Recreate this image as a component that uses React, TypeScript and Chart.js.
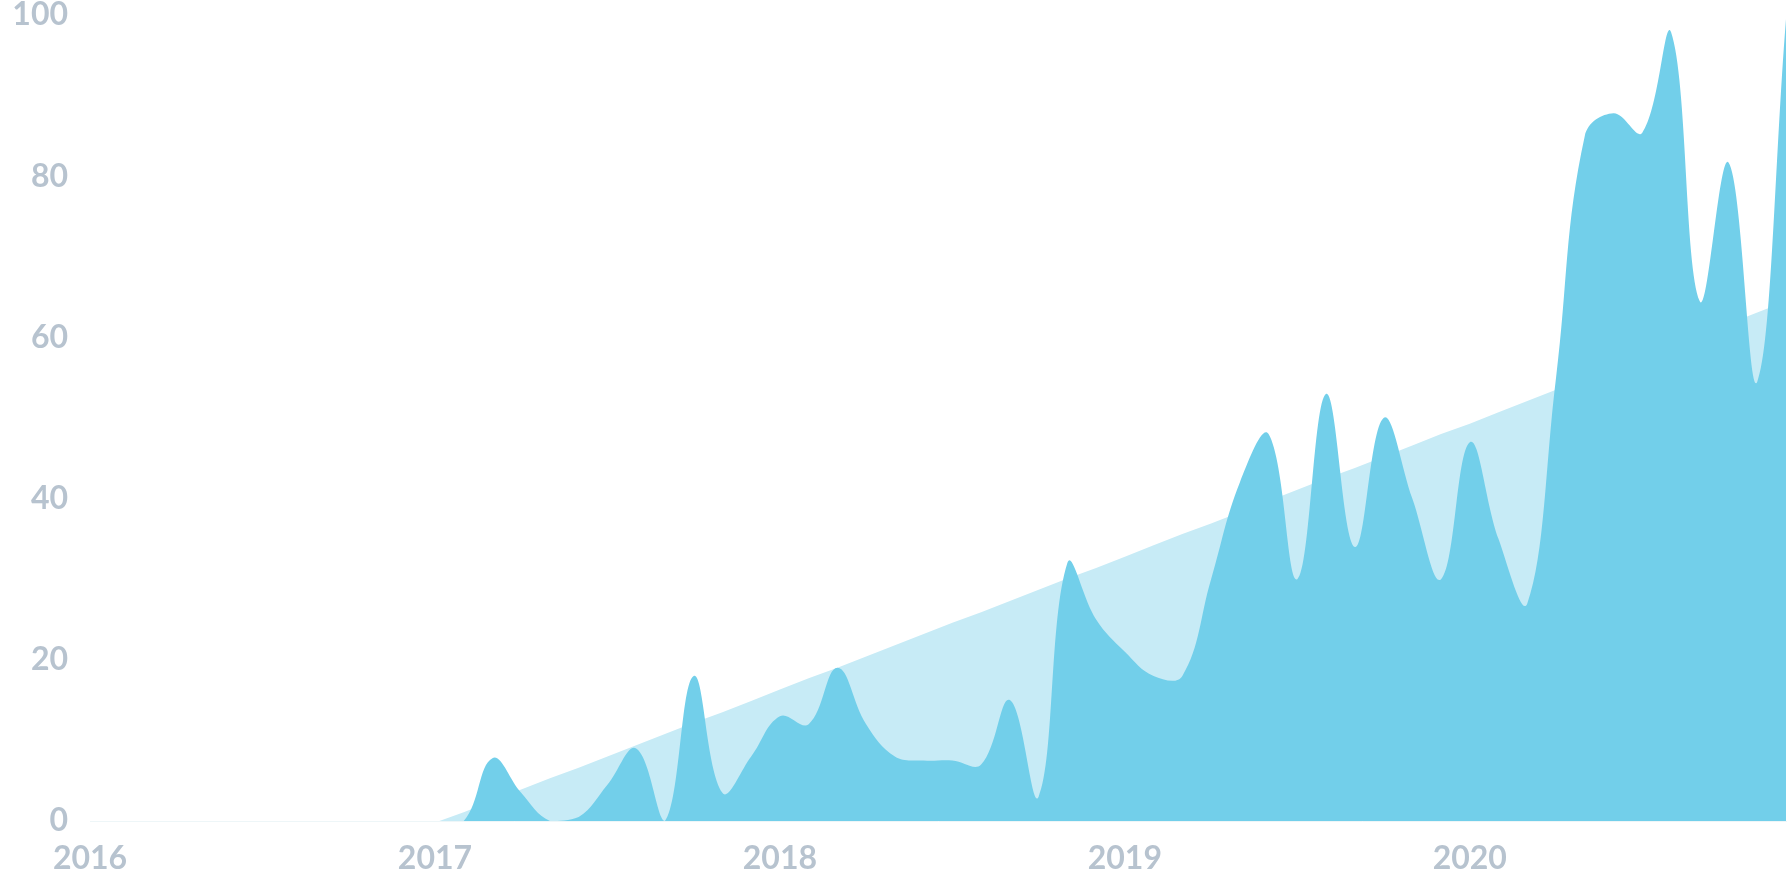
import React, { useEffect, useRef } from "react";
import { Chart, registerables } from "chart.js";

Chart.register(...registerables);

const years = ["2016", "2017", "2018", "2019", "2020"];
const monthCodes = ["01", "02", "03", "04", "05", "06", "07", "08", "09", "10", "11", "12"];
const categories = years.flatMap((y) => monthCodes.map((m) => `${y}-${m}`));

const activity = [
  0, 0, 0, 0, 0, 0, 0, 0, 0, 0, 0, 0,
  0, 0, 7.8, 3.5, 0, 0.5, 4.5, 9, 0, 18, 3.5, 8,
  13, 12, 19, 12, 8, 7.5, 7.5, 7, 15, 3, 32, 25,
  21, 18, 18, 30, 42, 48, 30, 53, 34, 50, 40, 30,
  47, 35, 27, 55, 85, 87.8, 85.4, 97.9, 64.5, 81.7, 54.5, 99.5,
];

const trend = [
  -16.8, -15.4, -14.0, -12.6, -11.3, -9.9, -8.5, -7.1, -5.7, -4.4, -3.0, -1.6,
  -0.2, 1.1, 2.5, 3.9, 5.3, 6.6, 8.0, 9.4, 10.8, 12.2, 13.5, 14.9,
  16.3, 17.7, 19.0, 20.4, 21.8, 23.2, 24.6, 25.9, 27.3, 28.7, 30.1, 31.4,
  32.8, 34.2, 35.6, 36.9, 38.3, 39.7, 41.1, 42.5, 43.8, 45.2, 46.6, 48.0,
  49.3, 50.7, 52.1, 53.5, 54.8, 56.2, 57.6, 59.0, 60.4, 61.7, 63.1, 64.5,
];

const yTicks = [0, 20, 40, 60, 80, 100];

const labelColor = "#b7c3cf";
const mainColor = "#72cfea";
const trendColor = "#c7ebf6";

export default function App() {
  const ref = useRef<HTMLCanvasElement | null>(null);

  useEffect(() => {
    document.body.style.margin = "0";
    const canvas = ref.current;
    if (!canvas) return;
    const chart = new Chart(canvas, {
      type: "line",
      data: {
        labels: categories,
        datasets: [
          {
            data: activity,
            backgroundColor: mainColor,
            borderColor: mainColor,
            borderWidth: 0,
            pointRadius: 0,
            fill: "origin",
            tension: 0.4,
          },
          {
            data: trend,
            backgroundColor: trendColor,
            borderColor: trendColor,
            borderWidth: 0,
            pointRadius: 0,
            fill: "origin",
            tension: 0,
          },
        ],
      },
      options: {
        responsive: false,
        animation: false,
        devicePixelRatio: 1,
        layout: { padding: { top: 15, right: 6, bottom: 0, left: 0 } },
        plugins: { legend: { display: false }, tooltip: { enabled: false } },
        scales: {
          x: {
            offset: false,
            grid: { display: false, drawTicks: false },
            border: { display: true, color: "#eef6f8", width: 1 },
            afterFit: (s: any) => {
              s.height = 75;
              s.paddingLeft = 0;
              s.paddingRight = 0;
            },
            ticks: {
              autoSkip: false,
              maxRotation: 0,
              padding: 18,
              color: labelColor,
              font: { family: "Lato", weight: "bold", size: 32 },
              callback: (_v: any, i: number) => {
                const c = categories[i];
                return c.endsWith("-01") ? c.slice(0, 4) : "";
              },
            },
          },
          y: {
            min: 0,
            max: 100,
            grid: { display: false, drawTicks: false },
            border: { display: false },
            afterFit: (s: any) => {
              s.width = 90;
              s.paddingTop = 0;
              s.paddingBottom = 0;
            },
            afterBuildTicks: (s: any) => {
              s.ticks = yTicks.map((v) => ({ value: v }));
            },
            ticks: {
              padding: 22,
              color: labelColor,
              font: { family: "Lato", weight: "bold", size: 32 },
            },
          },
        },
      },
    });
    return () => chart.destroy();
  }, []);

  return (
    <div style={{ width: 1792, height: 896, background: "#ffffff" }}>
      <canvas ref={ref} width={1792} height={896} />
    </div>
  );
}
